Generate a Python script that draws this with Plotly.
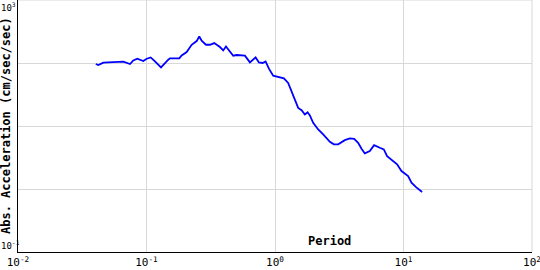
import plotly.graph_objects as go

period = [0.0403, 0.0422, 0.0461, 0.0552, 0.0660, 0.0744, 0.0789, 0.0848, 0.0944, 0.1004,
          0.1078, 0.1164, 0.1297, 0.1477, 0.1523, 0.1799, 0.1878, 0.2054, 0.2246, 0.2457,
          0.2574, 0.2686, 0.2902, 0.3118, 0.3366, 0.3728, 0.3956, 0.4152, 0.4404, 0.4732,
          0.5028, 0.5833, 0.6381, 0.7066, 0.7497, 0.8012, 0.8449, 0.8967, 0.9683, 1.072,
          1.173, 1.266, 1.346, 1.428, 1.515, 1.610, 1.708, 1.793, 1.868, 1.982,
          2.168, 2.371, 2.673, 2.871, 3.100, 3.496, 3.823, 4.129, 4.436, 4.714,
          5.001, 5.470, 5.907, 6.542, 7.027, 7.457, 8.301, 8.917, 9.647, 10.86,
          11.54, 12.46, 13.95]
accel = [96.4, 93.0, 101.1, 102.2, 104.9, 96.4, 109.9, 117.0, 107.5, 117.0,
         122.6, 106.0, 85.2, 112.8, 118.3, 118.3, 131.9, 149.3, 194.8, 222.9,
         263.7, 225.3, 194.8, 194.8, 207.3, 179.1, 158.2, 183.1, 158.2, 130.5,
         133.9, 130.5, 102.2, 122.6, 102.2, 100.0, 106.0, 81.2, 63.0, 59.2,
         57.1, 48.3, 35.5, 24.7, 19.4, 17.8, 15.2, 16.5, 14.7, 11.2,
         8.80, 7.34, 5.62, 5.12, 5.12, 5.96, 6.34, 6.27, 5.42, 4.36,
         3.67, 3.99, 4.97, 4.52, 4.25, 3.33, 2.77, 2.46, 1.93, 1.61,
         1.26, 1.08, 0.897]

x_tickvals = [0.01, 0.1, 1, 10, 100]
x_ticktext = ["10<sup>-2</sup>", "10<sup>-1</sup>", "10<sup>0</sup>", "10<sup>1</sup>", "10<sup>2</sup>"]
y_tickvals = [0.1, 1, 10, 100, 1000]
y_label_text = ["10<sup>-1</sup>", "10<sup>3</sup>"]

x_title = "Period"
y_title = "Abs. Acceleration (cm/sec/sec)"

mono = "DejaVu Sans Mono"
grid = "#d8d8d8"

fig = go.Figure()
fig.add_trace(go.Scatter(x=period, y=accel, mode="lines",
                         line=dict(color="#0000ff", width=1.8), showlegend=False))

fig.update_layout(
    width=540, height=270,
    margin=dict(l=18, r=8, t=0, b=18),
    paper_bgcolor="white", plot_bgcolor="white",
    font=dict(family=mono, size=11, color="black"),
    xaxis=dict(type="log", range=[-2, 2], tickvals=x_tickvals, ticktext=x_ticktext,
               showgrid=True, gridcolor=grid, gridwidth=1,
               showline=True, linecolor="black", linewidth=1,
               ticks="", tickfont=dict(family=mono, size=11), zeroline=False,
               automargin=False, ticklabeloverflow="allow"),
    yaxis=dict(type="log", range=[-1, 3], tickvals=y_tickvals, showticklabels=False,
               showgrid=True, gridcolor=grid, gridwidth=1,
               showline=True, linecolor="black", linewidth=1,
               ticks="", zeroline=False, automargin=False),
)

# grid lines at the far ends of the plot area (right and top borders)
fig.add_shape(type="line", xref="paper", yref="paper", x0=1, x1=1, y0=0, y1=1,
              line=dict(color=grid, width=1), layer="below")
fig.add_shape(type="line", xref="paper", yref="paper", x0=0, x1=1, y0=1, y1=1,
              line=dict(color=grid, width=1), layer="below")

# y-axis labels (only the ends carry text)
fig.add_annotation(text=y_label_text[0], xref="paper", yref="paper", x=0, y=0,
                   xanchor="left", yanchor="bottom", showarrow=False,
                   font=dict(family=mono, size=9), xshift=-18, borderpad=0)
fig.add_annotation(text=y_label_text[1], xref="paper", yref="paper", x=0, y=1,
                   xanchor="left", yanchor="top", showarrow=False,
                   font=dict(family=mono, size=9), xshift=-18, borderpad=0)
# axis titles
fig.add_annotation(text="<b>" + x_title + "</b>", xref="paper", yref="paper", x=0.606, y=0.0,
                   xanchor="center", yanchor="bottom", showarrow=False,
                   font=dict(family=mono, size=12), yshift=2)
fig.add_annotation(text="<b>" + y_title + "</b>", xref="paper", yref="paper", x=0, y=0.5,
                   xanchor="right", yanchor="middle", textangle=-90, showarrow=False,
                   font=dict(family=mono, size=12), xshift=-3)

fig.write_html("out.html")
